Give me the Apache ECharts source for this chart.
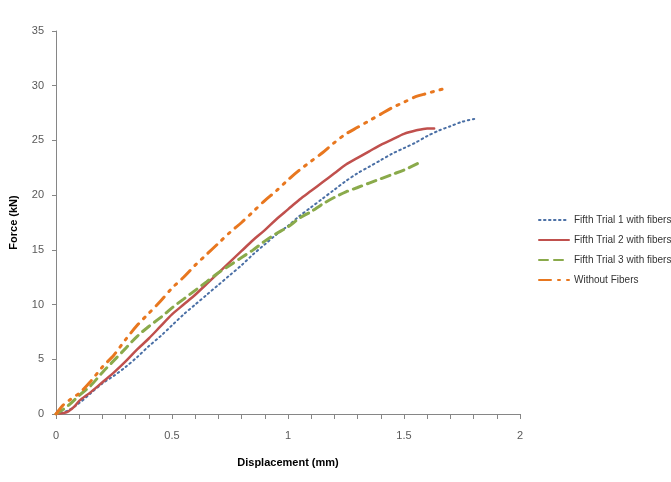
<!DOCTYPE html>
<html>
<head>
<meta charset="utf-8">
<script src="https://cdn.jsdelivr.net/npm/echarts@6/dist/echarts.min.js"></script>
<style>
  html, body { margin: 0; padding: 0; background: #fff; }
  #chart { width: 671px; height: 482px; }
</style>
</head>
<body>
<div id="chart"></div>
<script>
// displacement (mm), force (kN) pairs
var trial1 = [
  [0, 0], [0.05, 0.3], [0.1, 1.0], [0.15, 1.9], [0.2, 2.8], [0.25, 3.5], [0.3, 4.3],
  [0.35, 5.2], [0.4, 6.2], [0.45, 7.1], [0.5, 8.1], [0.55, 9.1], [0.6, 10.0],
  [0.65, 10.9], [0.7, 11.8], [0.75, 12.7], [0.8, 13.6], [0.85, 14.6], [0.9, 15.5],
  [0.95, 16.4], [1.0, 17.2], [1.05, 18.1], [1.1, 18.9], [1.15, 19.7], [1.2, 20.5],
  [1.25, 21.3], [1.3, 22.0], [1.35, 22.6], [1.4, 23.2], [1.45, 23.8], [1.5, 24.3],
  [1.55, 24.8], [1.6, 25.4], [1.65, 25.9], [1.7, 26.3], [1.75, 26.7], [1.81, 27.0]
];
var trial2 = [
  [0, 0], [0.05, 0.2], [0.08, 0.7], [0.1, 1.2], [0.15, 2.0], [0.2, 2.9], [0.25, 3.8],
  [0.3, 4.8], [0.35, 5.9], [0.4, 6.9], [0.45, 8.0], [0.5, 9.1], [0.55, 10.0],
  [0.6, 10.9], [0.65, 11.9], [0.7, 12.9], [0.75, 13.9], [0.8, 14.9], [0.85, 15.9],
  [0.9, 16.8], [0.95, 17.8], [1.0, 18.7], [1.05, 19.6], [1.1, 20.4], [1.15, 21.2],
  [1.2, 22.0], [1.25, 22.8], [1.3, 23.4], [1.35, 24.0], [1.4, 24.6], [1.45, 25.1],
  [1.5, 25.6], [1.55, 25.9], [1.6, 26.1], [1.63, 26.1]
];
var trial3 = [
  [0, 0], [0.03, 0.4], [0.06, 0.9], [0.1, 1.7], [0.15, 2.6], [0.2, 3.8], [0.25, 4.9],
  [0.3, 6.0], [0.35, 7.1], [0.4, 8.0], [0.45, 8.8], [0.5, 9.7], [0.55, 10.5],
  [0.6, 11.3], [0.65, 12.1], [0.7, 12.9], [0.75, 13.6], [0.8, 14.3], [0.85, 15.0],
  [0.9, 15.8], [0.95, 16.5], [1.0, 17.1], [1.05, 17.9], [1.1, 18.5], [1.15, 19.2],
  [1.2, 19.8], [1.25, 20.3], [1.3, 20.7], [1.35, 21.1], [1.4, 21.5], [1.45, 21.9],
  [1.5, 22.3], [1.56, 22.9]
];
var noFibers = [
  [0, 0], [0.03, 0.8], [0.06, 1.3], [0.1, 1.9], [0.15, 3.0], [0.2, 4.3], [0.25, 5.4],
  [0.3, 6.8], [0.35, 8.1], [0.4, 9.2], [0.45, 10.3], [0.5, 11.5], [0.55, 12.5],
  [0.6, 13.6], [0.65, 14.6], [0.7, 15.6], [0.75, 16.6], [0.8, 17.5], [0.85, 18.5],
  [0.9, 19.5], [0.95, 20.4], [1.0, 21.4], [1.05, 22.3], [1.1, 23.1], [1.15, 23.9],
  [1.2, 24.8], [1.25, 25.6], [1.3, 26.2], [1.35, 26.8], [1.4, 27.4], [1.45, 28.0],
  [1.5, 28.5], [1.55, 29.0], [1.6, 29.3], [1.65, 29.6], [1.69, 29.8]
];
var seriesNames = [
  "Fifth Trial 1 with fibers",
  "Fifth Trial 2 with fibers",
  "Fifth Trial 3 with fibers",
  "Without Fibers"
];

var chart = echarts.init(document.getElementById("chart"));
var font = "'Liberation Sans', 'DejaVu Sans', sans-serif";

function lineSeries(name, data, color, width, type) {
  return {
    name: name,
    type: "line",
    data: data,
    smooth: 0.3,
    showSymbol: false,
    symbol: "none",
    lineStyle: { color: color, width: width, type: type, cap: "round" },
    itemStyle: { color: color }
  };
}

var option = {
  backgroundColor: "#fff",
  animation: false,
  grid: { left: 56, right: 151, top: 31, bottom: 68, outerBoundsMode: "none" },
  legend: {
    orient: "vertical",
    left: 538,
    top: 215,
    padding: 0,
    itemWidth: 30,
    itemHeight: 10,
    itemGap: 10,
    itemStyle: { opacity: 0 },
    textStyle: { fontFamily: font, fontSize: 10, color: "#333" },
    data: seriesNames
  },
  xAxis: {
    type: "value",
    min: 0,
    max: 2,
    interval: 0.1,
    name: "Displacement (mm)",
    nameLocation: "middle",
    nameGap: 43,
    nameTextStyle: { fontFamily: font, fontSize: 11, fontWeight: "bold", color: "#000" },
    axisLine: { lineStyle: { color: "#868686", width: 1 } },
    axisTick: { show: true, length: 5, lineStyle: { color: "#868686" } },
    axisLabel: {
      fontFamily: font, fontSize: 11, color: "#595959", margin: 16,
      formatter: function (v) {
        var r = Math.round(v * 10);
        return r % 5 === 0 ? String(r / 10) : "";
      }
    },
    splitLine: { show: false }
  },
  yAxis: {
    type: "value",
    min: 0,
    max: 35,
    interval: 5,
    name: "Force (kN)",
    nameLocation: "middle",
    nameGap: 37,
    nameTextStyle: { fontFamily: font, fontSize: 11, fontWeight: "bold", color: "#000" },
    axisLine: { show: true, lineStyle: { color: "#868686", width: 1 } },
    axisTick: { show: true, length: 4, lineStyle: { color: "#868686" } },
    axisLabel: { fontFamily: font, fontSize: 11, color: "#595959", margin: 12 },
    splitLine: { show: false }
  },
  series: [
    lineSeries(seriesNames[0], trial1, "#4A6FA5", 2, [1.5, 3.5]),
    lineSeries(seriesNames[1], trial2, "#C0504D", 2.5, "solid"),
    lineSeries(seriesNames[2], trial3, "#8AAA4B", 3, [9, 6]),
    lineSeries(seriesNames[3], noFibers, "#E8771F", 3, [12, 7, 2, 7, 2, 7])
  ]
};

chart.setOption(option);
</script>
</body>
</html>
